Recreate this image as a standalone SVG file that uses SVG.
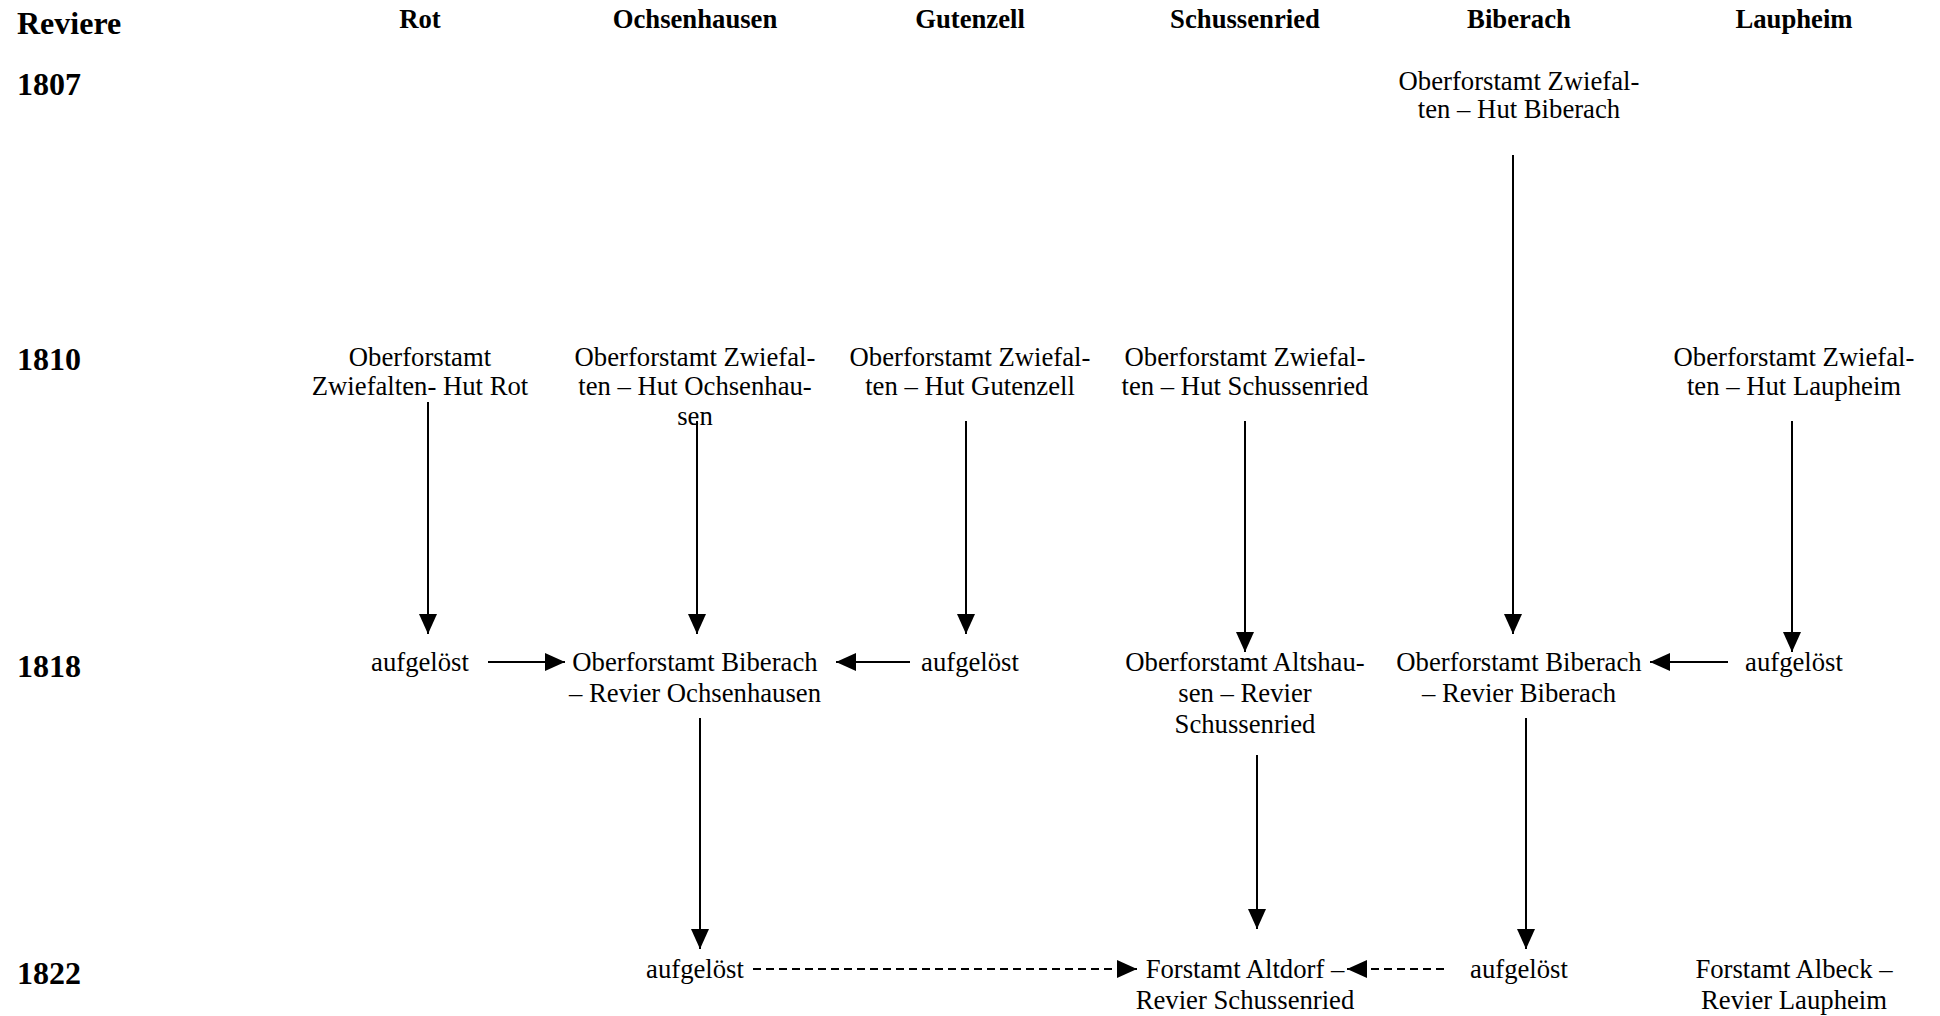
<svg xmlns="http://www.w3.org/2000/svg" width="1940" height="1016" viewBox="0 0 1940 1016">
<style>
text{font-family:"Liberation Serif","Times New Roman",serif;fill:#000}
.row{font-size:32px;font-weight:bold}
.col{font-size:26.7px;font-weight:bold;text-anchor:middle}
.n{font-size:26.7px;text-anchor:middle}
.c{stroke:#000;stroke-width:2;fill:none}
.d{stroke-dasharray:8 5}
</style>
<defs>
<marker id="ah" markerUnits="userSpaceOnUse" markerWidth="20" markerHeight="18" refX="20" refY="9" orient="auto">
<path d="M0,0 L20,9 L0,18 z" fill="#000"/>
</marker>
</defs>
<rect width="1940" height="1016" fill="#fff"/>
<g id="headers">
<text class="row" x="17" y="34">Reviere</text>
<text class="row" x="17" y="95">1807</text>
<text class="row" x="17" y="370">1810</text>
<text class="row" x="17" y="677">1818</text>
<text class="row" x="17" y="984">1822</text>
<text class="col" x="420" y="28">Rot</text>
<text class="col" x="695" y="28">Ochsenhausen</text>
<text class="col" x="970" y="28">Gutenzell</text>
<text class="col" x="1245" y="28">Schussenried</text>
<text class="col" x="1519" y="28">Biberach</text>
<text class="col" x="1794" y="28">Laupheim</text>
</g>
<g id="n1807bib"><text class="n" x="1519" y="90">Oberforstamt Zwiefal-</text><text class="n" x="1519" y="118">ten – Hut Biberach</text></g>
<g id="n1810rot"><text class="n" x="420" y="366">Oberforstamt</text><text class="n" x="420" y="395">Zwiefalten- Hut Rot</text></g>
<g id="n1810och"><text class="n" x="695" y="366">Oberforstamt Zwiefal-</text><text class="n" x="695" y="395">ten – Hut Ochsenhau-</text><text class="n" x="695" y="425">sen</text></g>
<g id="n1810gut"><text class="n" x="970" y="366">Oberforstamt Zwiefal-</text><text class="n" x="970" y="395">ten – Hut Gutenzell</text></g>
<g id="n1810sch"><text class="n" x="1245" y="366">Oberforstamt Zwiefal-</text><text class="n" x="1245" y="395">ten – Hut Schussenried</text></g>
<g id="n1810lau"><text class="n" x="1794" y="366">Oberforstamt Zwiefal-</text><text class="n" x="1794" y="395">ten – Hut Laupheim</text></g>
<g id="n1818rot"><text class="n" x="420" y="671">aufgelöst</text></g>
<g id="n1818och"><text class="n" x="695" y="671">Oberforstamt Biberach</text><text class="n" x="695" y="702">– Revier Ochsenhausen</text></g>
<g id="n1818gut"><text class="n" x="970" y="671">aufgelöst</text></g>
<g id="n1818sch"><text class="n" x="1245" y="671">Oberforstamt Altshau-</text><text class="n" x="1245" y="702">sen – Revier</text><text class="n" x="1245" y="733">Schussenried</text></g>
<g id="n1818bib"><text class="n" x="1519" y="671">Oberforstamt Biberach</text><text class="n" x="1519" y="702">– Revier Biberach</text></g>
<g id="n1818lau"><text class="n" x="1794" y="671">aufgelöst</text></g>
<g id="n1822och"><text class="n" x="695" y="978">aufgelöst</text></g>
<g id="n1822sch"><text class="n" x="1245" y="978">Forstamt Altdorf –</text><text class="n" x="1245" y="1009">Revier Schussenried</text></g>
<g id="n1822bib"><text class="n" x="1519" y="978">aufgelöst</text></g>
<g id="n1822lau"><text class="n" x="1794" y="978">Forstamt Albeck –</text><text class="n" x="1794" y="1009">Revier Laupheim</text></g>
<g id="connectors">
<line class="c" x1="1513" y1="155" x2="1513" y2="634" marker-end="url(#ah)"/>
<line class="c" x1="428" y1="402" x2="428" y2="634" marker-end="url(#ah)"/>
<line class="c" x1="697" y1="421" x2="697" y2="634" marker-end="url(#ah)"/>
<line class="c" x1="966" y1="421" x2="966" y2="634" marker-end="url(#ah)"/>
<line class="c" x1="1245" y1="421" x2="1245" y2="652" marker-end="url(#ah)"/>
<line class="c" x1="1792" y1="421" x2="1792" y2="652" marker-end="url(#ah)"/>
<line class="c" x1="488" y1="662" x2="565" y2="662" marker-end="url(#ah)"/>
<line class="c" x1="910" y1="662" x2="836" y2="662" marker-end="url(#ah)"/>
<line class="c" x1="1728" y1="662" x2="1650" y2="662" marker-end="url(#ah)"/>
<line class="c" x1="700" y1="718" x2="700" y2="949" marker-end="url(#ah)"/>
<line class="c" x1="1257" y1="755" x2="1257" y2="929" marker-end="url(#ah)"/>
<line class="c" x1="1526" y1="718" x2="1526" y2="949" marker-end="url(#ah)"/>
<line class="c d" x1="753" y1="969" x2="1137" y2="969" marker-end="url(#ah)"/>
<line class="c d" x1="1444" y1="969" x2="1347" y2="969" marker-end="url(#ah)"/>
</g>
</svg>
